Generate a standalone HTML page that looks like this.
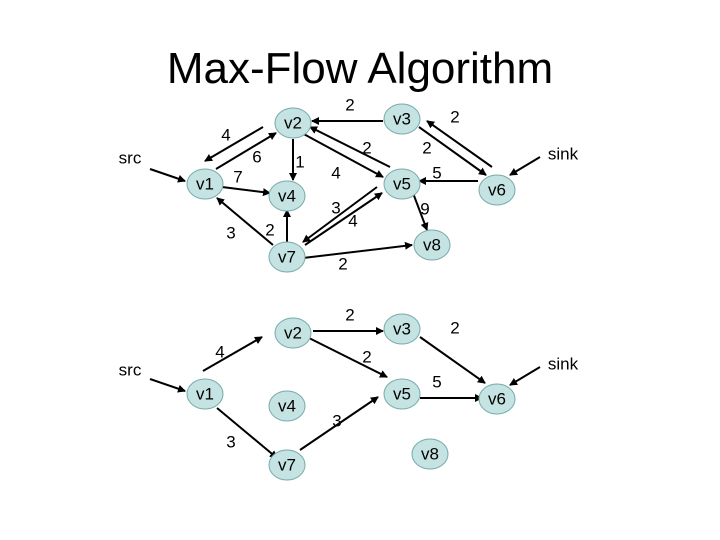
<!DOCTYPE html>
<html><head><style>body{margin:0;background:#fff}svg{display:block}text{font-family:"Liberation Sans",sans-serif}</style></head><body>
<svg width="720" height="540" viewBox="0 0 720 540">
<defs><marker id="a" markerWidth="8" markerHeight="8" refX="7" refY="4" orient="auto" markerUnits="userSpaceOnUse"><path d="M0,0L8,4L0,8z" fill="#000"/></marker></defs>
<text x="360" y="83" font-size="44" text-anchor="middle">Max-Flow Algorithm</text>
<g stroke="#000" stroke-width="2" marker-end="url(#a)">
<line x1="150" y1="169" x2="185" y2="181"/>
<line x1="263" y1="127" x2="205" y2="161"/>
<line x1="216" y1="169" x2="276" y2="133"/>
<line x1="222" y1="187" x2="270" y2="193"/>
<line x1="293" y1="139" x2="293" y2="180"/>
<line x1="383" y1="121" x2="312" y2="121"/>
<line x1="300" y1="132" x2="383" y2="177"/>
<line x1="390" y1="167" x2="310" y2="127"/>
<line x1="287" y1="245" x2="287" y2="210"/>
<line x1="273" y1="245" x2="217" y2="198"/>
<line x1="377" y1="187" x2="303" y2="242"/>
<line x1="305" y1="245" x2="382" y2="193"/>
<line x1="303" y1="258" x2="412" y2="245"/>
<line x1="413" y1="193" x2="427" y2="230"/>
<line x1="478" y1="181" x2="419" y2="181"/>
<line x1="419" y1="127" x2="486" y2="175"/>
<line x1="492" y1="167" x2="427" y2="121"/>
<line x1="540" y1="157" x2="510" y2="175"/>
<line x1="150" y1="379" x2="185" y2="391"/>
<line x1="203" y1="371" x2="262" y2="337"/>
<line x1="313" y1="331" x2="383" y2="331"/>
<line x1="307" y1="337" x2="387" y2="377"/>
<line x1="420" y1="337" x2="485" y2="383"/>
<line x1="420" y1="398" x2="482" y2="398"/>
<line x1="540" y1="367" x2="510" y2="385"/>
<line x1="217" y1="408" x2="277" y2="458"/>
<line x1="300" y1="450" x2="378" y2="397"/>
</g>
<g fill="#c5e3e3" stroke="#7aa" stroke-width="1">
<ellipse cx="205" cy="184" rx="18" ry="15"/><ellipse cx="293" cy="123" rx="18" ry="15"/><ellipse cx="402" cy="119" rx="18" ry="15"/><ellipse cx="287" cy="196" rx="18" ry="15"/><ellipse cx="402" cy="184" rx="18" ry="15"/><ellipse cx="497" cy="190" rx="18" ry="15"/><ellipse cx="287" cy="257" rx="18" ry="15"/><ellipse cx="432" cy="245" rx="18" ry="15"/>
<ellipse cx="205" cy="394" rx="18" ry="15"/><ellipse cx="293" cy="333" rx="18" ry="15"/><ellipse cx="402" cy="329" rx="18" ry="15"/><ellipse cx="287" cy="406" rx="18" ry="15"/><ellipse cx="402" cy="394" rx="18" ry="15"/><ellipse cx="497" cy="399" rx="18" ry="15"/><ellipse cx="287" cy="465" rx="18" ry="15"/><ellipse cx="430" cy="454" rx="18" ry="15"/>
</g>
<g font-size="17" text-anchor="middle" dominant-baseline="central">
<text x="205" y="184">v1</text><text x="293" y="123">v2</text><text x="402" y="119">v3</text><text x="287" y="196">v4</text><text x="402" y="184">v5</text><text x="497" y="190">v6</text><text x="287" y="257">v7</text><text x="432" y="245">v8</text>
<text x="205" y="394">v1</text><text x="293" y="333">v2</text><text x="402" y="329">v3</text><text x="287" y="406">v4</text><text x="402" y="394">v5</text><text x="497" y="399">v6</text><text x="287" y="465">v7</text><text x="430" y="454">v8</text>
<text x="130" y="158">src</text><text x="563" y="154">sink</text>
<text x="350" y="105">2</text><text x="455" y="117">2</text><text x="226" y="135">4</text><text x="257" y="157">6</text><text x="300" y="162">1</text><text x="367" y="148">2</text><text x="427" y="148">2</text><text x="238" y="177">7</text><text x="336" y="173">4</text><text x="437" y="173">5</text><text x="336" y="208">3</text><text x="353" y="221">4</text><text x="425" y="209">9</text><text x="231" y="233">3</text><text x="270" y="230">2</text><text x="343" y="264">2</text>
<text x="130" y="370">src</text><text x="563" y="364">sink</text>
<text x="350" y="315">2</text><text x="455" y="328">2</text><text x="220" y="352">4</text><text x="367" y="357">2</text><text x="437" y="382">5</text><text x="337" y="421">3</text><text x="231" y="442">3</text>
</g>
</svg>
</body></html>
